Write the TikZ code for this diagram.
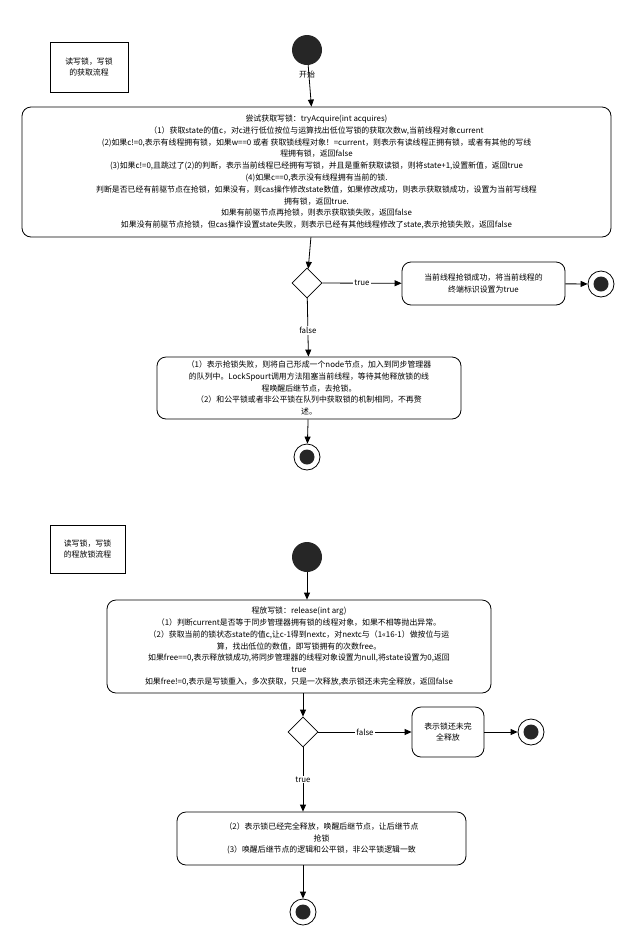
\documentclass[tikz,border=0pt]{standalone}
\usepackage{fontspec}
\setmainfont{Noto Sans CJK SC}
\usetikzlibrary{shapes.geometric,shapes.misc,arrows.meta}
\begin{document}
\begin{tikzpicture}[x=1pt,y=-1pt,font=\fontsize{7.9}{11.8}\selectfont]
\tikzset{schritt/.style={draw,thick,rounded corners=9pt,align=center,inner sep=2pt},
  notiz/.style={draw,fill=white,align=center,inner sep=3pt},
  raute/.style={diamond,draw,thick,minimum size=30pt,inner sep=0pt},
  start/.style={circle,fill=black!85,minimum size=30pt,inner sep=0pt},
  ende/.style={circle,draw,thick,minimum size=26pt,inner sep=0pt,path picture={\fill[black!85] (path picture bounding box.center) circle (7.5pt);}},
  pfeil/.style={-{Triangle[length=7pt,width=6pt]},thick}}
\useasboundingbox (0,0) rectangle (640,951);
% acquire
\node [notiz,minimum width=78pt,minimum height=50pt] (n1) at (89,67) {读写锁，写锁\\的获取流程};
\node [start] (s1) at (307,50) {};
\node (l1) at (307,75) {开始};
\node [schritt,minimum width=589pt,minimum height=130pt] (b1) at (316.5,172) {尝试获取写锁：tryAcquire(int acquires)\\（1）获取state的值c，对c进行低位按位与运算找出低位写锁的获取次数w,当前线程对象current\\(2)如果c!=0,表示有线程拥有锁，如果w==0 或者 获取锁线程对象！=current，则表示有读线程正拥有锁，或者有其他的写线\\程拥有锁，返回false\\(3)如果c!=0,且跳过了(2)的判断，表示当前线程已经拥有写锁，并且是重新获取读锁，则将state+1,设置新值，返回true\\(4)如果c==0,表示没有线程拥有当前的锁.\\判断是否已经有前驱节点在抢锁，如果没有，则cas操作修改state数值，如果修改成功，则表示获取锁成功，设置为当前写线程\\拥有锁，返回true.\\如果有前驱节点再抢锁，则表示获取锁失败，返回false\\如果没有前驱节点抢锁，但cas操作设置state失败，则表示已经有其他线程修改了state,表示抢锁失败，返回false};
\node [raute] (d1) at (307,283) {};
\node [schritt,minimum width=163pt,minimum height=43pt] (b2) at (483.5,283.5) {当前线程抢锁成功，将当前线程的\\终端标识设置为true};
\node [ende] (e1) at (601,284) {};
\node [schritt,minimum width=304pt,minimum height=62pt] (b3) at (309,388) {（1）表示抢锁失败，则将自己形成一个node节点，加入到同步管理器\\的队列中。LockSpourt调用方法阻塞当前线程，等待其他释放锁的线\\程唤醒后继节点，去抢锁。\\（2）和公平锁或者非公平锁在队列中获取锁的机制相同，不再赘\\述。};
\node [ende] (e2) at (307,457) {};
\draw [pfeil] (s1) -- (b1);
\draw [pfeil] (b1) -- (d1);
\draw [pfeil] (d1) -- node[fill=white,inner sep=1pt] {true} (b2);
\draw [pfeil] (b2) -- (e1);
\draw [pfeil] (d1) -- node[fill=white,inner sep=1pt,pos=0.55] {false} (b3);
\draw [pfeil] (b3) -- (e2);
% release
\node [notiz,minimum width=75pt,minimum height=48pt] (n2) at (87.5,549) {读写锁，写锁\\的程放锁流程};
\node [start] (s2) at (307,557) {};
\node [schritt,minimum width=384pt,minimum height=93pt] (b4) at (299,646.5) {程放写锁：release(int arg)\\（1）判断current是否等于同步管理器拥有锁的线程对象，如果不相等抛出异常。\\（2）获取当前的锁状态state的值c,让c-1得到nextc，对nextc与（1<<16-1）做按位与运\\算，找出低位的数值，即写锁拥有的次数free。\\如果free==0,表示释放锁成功,将同步管理器的线程对象设置为null,将state设置为0,返回\\true\\如果free!=0,表示是写锁重入，多次获取，只是一次释放,表示锁还未完全释放，返回false};
\node [raute] (d2) at (303,732) {};
\node [schritt,minimum width=72pt,minimum height=50pt] (b5) at (448,732) {表示锁还未完\\全释放};
\node [ende] (e3) at (531,732) {};
\node [schritt,minimum width=289pt,minimum height=53pt] (b6) at (321.5,838.5) {（2）表示锁已经完全释放，唤醒后继节点，让后继节点\\抢锁\\(3）唤醒后继节点的逻辑和公平锁，非公平锁逻辑一致};
\node [ende] (e4) at (303,912) {};
\draw [pfeil] (s2) -- (s2 |- b4.north);
\draw [pfeil] (d2 |- b4.south) -- (d2);
\draw [pfeil] (d2) -- node[fill=white,inner sep=1pt] {false} (b5);
\draw [pfeil] (b5) -- (e3);
\draw [pfeil] (d2) -- node[fill=white,inner sep=1pt] {true} (d2 |- b6.north);
\draw [pfeil] (d2 |- b6.south) -- (e4);
\end{tikzpicture}
\end{document}
